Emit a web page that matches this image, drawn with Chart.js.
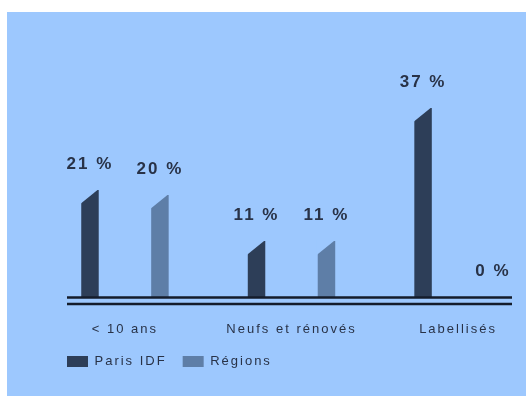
<!DOCTYPE html>
<html lang="fr">
<head>
<meta charset="utf-8">
<script src="https://cdn.jsdelivr.net/npm/chart.js@4/dist/chart.umd.min.js"></script>
<style>
  html, body { margin: 0; padding: 0; background: #ffffff; }
  #fundo { position: absolute; left: 7px; top: 12px; width: 519px; height: 384px; background: #9dc8fe; }
  #caixa { position: absolute; left: 0; top: 0; width: 526px; height: 396px; }
</style>
</head>
<body>
<div id="fundo"></div>
<div id="caixa"><canvas id="barras"></canvas></div>
<script>
// dados do gráfico
var categorias = ['< 10 ans', 'Neufs et rénovés', 'Labellisés'];
var nomesSeries = ['Paris IDF', 'Régions'];
var parisIdf = [21, 11, 37];
var regioes = [20, 11, 0];

var corFundo = '#9dc8fe';
var corTexto = '#283247';
var cores = ['#2d3e58', '#5e7ea7'];

function pontos(valores) {
  return valores.map(function (v, i) { return { x: i, y: v }; });
}

// espaçamento das letras (o canvas perde isso quando é redimensionado)
var espacamento = {
  id: 'espacamento',
  beforeUpdate: function (chart) { chart.ctx.letterSpacing = '2px'; },
  beforeDraw: function (chart) { chart.ctx.letterSpacing = '2px'; }
};

// topo chanfrado, linha dupla do eixo e rótulos em %
var detalhes = {
  id: 'detalhes',
  afterDatasetsDraw: function (chart) {
    var ctx = chart.ctx;
    var area = chart.chartArea;
    ctx.save();
    chart.data.datasets.forEach(function (ds, d) {
      chart.getDatasetMeta(d).data.forEach(function (barra, i) {
        var esq = barra.x - barra.width / 2;
        var dir = barra.x + barra.width / 2;
        if (ds.data[i].y > 0) {
          ctx.fillStyle = corFundo;
          ctx.beginPath();
          ctx.moveTo(esq - 1, barra.y - 1);
          ctx.lineTo(dir, barra.y - 1);
          ctx.lineTo(esq - 1, barra.y + 14);
          ctx.closePath();
          ctx.fill();
        }
        ctx.fillStyle = corTexto;
        ctx.font = 'bold 17px "Liberation Sans", Arial, sans-serif';
        ctx.textAlign = 'center';
        ctx.textBaseline = 'middle';
        ctx.fillText(ds.data[i].y + ' %', barra.x, barra.y - 26);
      });
    });
    ctx.strokeStyle = '#141c2b';
    ctx.lineWidth = 2.5;
    [0, 6.5].forEach(function (desl) {
      ctx.beginPath();
      ctx.moveTo(area.left, area.bottom + desl);
      ctx.lineTo(area.right, area.bottom + desl);
      ctx.stroke();
    });
    ctx.restore();
  }
};

var ctx = document.getElementById('barras').getContext('2d');
var grafico = new Chart(ctx, {
  type: 'bar',
  data: {
    datasets: [
      { label: nomesSeries[0], data: pontos(parisIdf), backgroundColor: cores[0] },
      { label: nomesSeries[1], data: pontos(regioes), backgroundColor: cores[1] }
    ]
  },
  options: {
    responsive: true,
    maintainAspectRatio: false,
    animation: false,
    categoryPercentage: 0.84,
    barPercentage: 0.25,
    layout: { padding: { left: 51, right: 14, top: 67, bottom: 18 } },
    scales: {
      x: {
        type: 'linear',
        offset: false,
        bounds: 'data',
        min: -0.348,
        max: 2.324,
        grid: {
          display: true,
          drawOnChartArea: false,
          drawTicks: true,
          tickLength: 22,
          color: 'rgba(0,0,0,0)',
          offset: false
        },
        border: { display: false },
        afterBuildTicks: function (escala) {
          escala.ticks = categorias.map(function (c, i) { return { value: i }; });
        },
        ticks: {
          padding: 2,
          autoSkip: false,
          maxRotation: 0,
          minRotation: 0,
          color: corTexto,
          font: { family: '"Liberation Sans", Arial, sans-serif', size: 13 },
          callback: function (valor) { return categorias[valor]; }
        }
      },
      y: {
        min: 0,
        max: 45,
        ticks: { display: false },
        grid: { display: false },
        border: { display: false },
        afterFit: function (escala) { escala.width = 16; }
      }
    },
    plugins: {
      legend: {
        position: 'bottom',
        align: 'start',
        labels: {
          boxWidth: 21,
          boxHeight: 11,
          padding: 16,
          color: corTexto,
          font: { family: '"Liberation Sans", Arial, sans-serif', size: 13 }
        }
      },
      tooltip: { enabled: false }
    }
  },
  plugins: [espacamento, detalhes]
});
</script>
</body>
</html>
